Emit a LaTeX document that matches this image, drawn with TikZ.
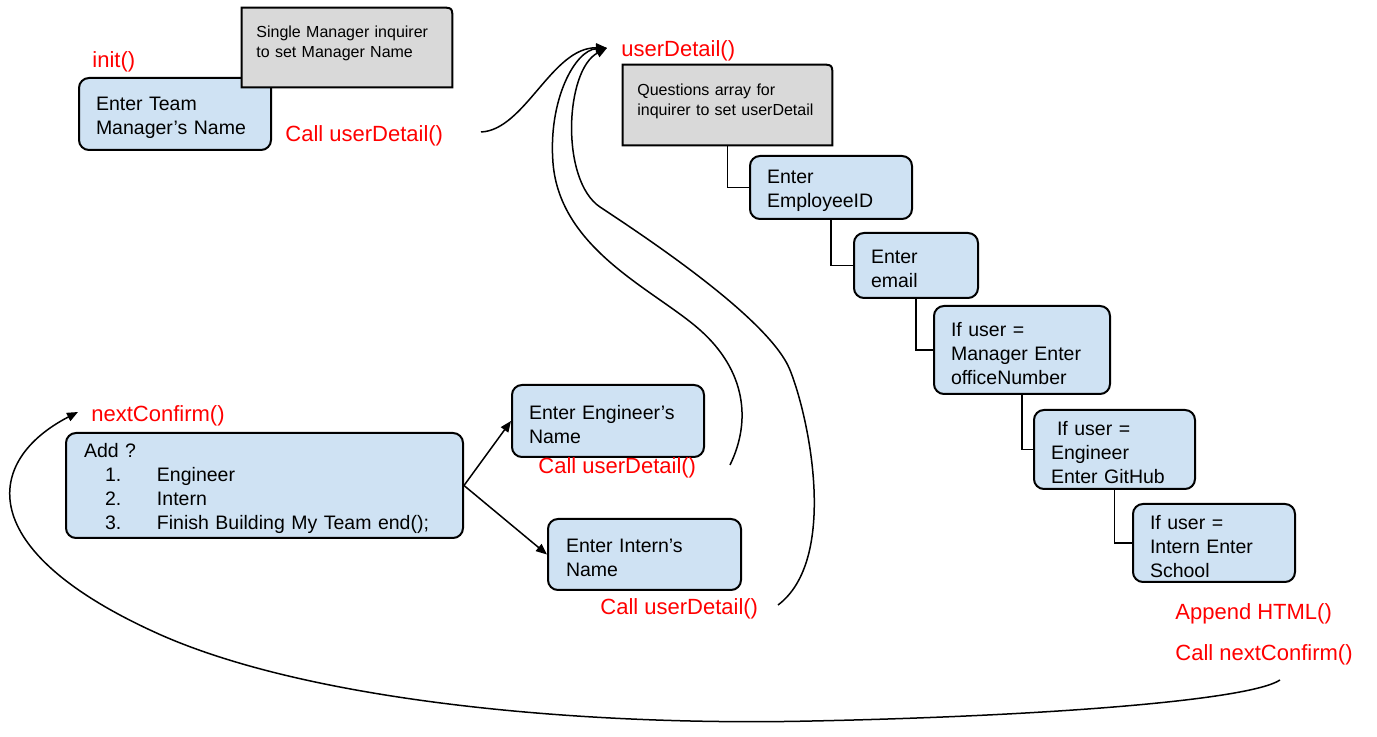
\documentclass[tikz,border=0pt]{standalone}
\usepackage{fontspec}
\setmainfont{Liberation Sans}
\usetikzlibrary{arrows.meta}
\definecolor{boxblue}{HTML}{CFE2F3}
\definecolor{boxgray}{HTML}{D9D9D9}
\definecolor{lblred}{HTML}{FF0000}
\tikzset{
  bluebox/.style={draw=black, line width=1pt, fill=boxblue, rounded corners=5pt,
    align=left, inner xsep=8.5pt, inner ysep=0pt, anchor=center,
    font=\fontsize{9.75}{12}\selectfont, execute at begin node={\rule{0pt}{10.1pt}}},
  grayarea/.style={rectangle, inner sep=0pt},
  grayshape/.style={draw=black, line width=1pt, fill=boxgray},
  graytext/.style={align=left, inner sep=0pt, anchor=base west,
    font=\fontsize{8}{10}\selectfont},
  lbl/.style={text=lblred, inner sep=0pt, anchor=west, yshift=-1.25pt,
    font=\fontsize{11}{13}\selectfont},
  link/.style={draw=black, line width=0.75pt},
  arr/.style={link, -{Stealth[length=5.5pt,width=4.5pt,inset=0pt]}}
}
\begin{document}
\begin{tikzpicture}[x=0.5pt,y=-0.5pt]
\useasboundingbox (0,0) rectangle (1377,737);

% manager box and its inquirer note
\node[bluebox, text width=79pt, minimum height=36pt] (mgr) at (175,114)
  {Enter Team\\Manager’s Name};
\node[grayarea, minimum width=105pt, minimum height=39.5pt] (g1) at (347,47.5) {};
\draw[grayshape] (g1.south west) -- (g1.north west) -- ([xshift=-6pt]g1.north east)
  .. controls (g1.north east) .. ([yshift=-6pt]g1.north east) -- (g1.south east) -- cycle;
\node[graytext, text width=95pt] (g1t) at (256,38) {Single Manager inquirer\\to set Manager Name};

\node[lbl] (init) at (92,59) {init()};
\node[lbl] (call1) at (285,133) {Call userDetail()};

% userDetail question chain
\node[lbl] (ud) at (621,48) {userDetail()};
\node[grayarea, minimum width=104.5pt, minimum height=40pt] (g2) at (727.5,105) {};
\draw[grayshape] (g2.south west) -- (g2.north west) -- ([xshift=-6pt]g2.north east)
  .. controls (g2.north east) .. ([yshift=-6pt]g2.north east) -- (g2.south east) -- cycle;
\node[graytext, text width=95pt] (g2t) at (637,96) {Questions array for\\inquirer to set userDetail};

\node[bluebox, text width=64pt, minimum height=31.5pt] (emp) at (831,187.5) {Enter\\EmployeeID};
\node[bluebox, text width=45pt, minimum height=32.5pt] (email) at (916,265.5) {Enter\\email};
\node[bluebox, text width=71pt, minimum height=44pt] (mgrq) at (1022,350)
  {If user =\\Manager Enter\\officeNumber};
\node[bluebox, text width=63.5pt, minimum height=39.5pt] (engq) at (1114.5,449.5)
  {\hspace*{3pt}If user =\\Engineer\\Enter GitHub};
\node[bluebox, text width=64pt, minimum height=39pt] (intq) at (1214,543)
  {If user =\\Intern Enter\\School};

\draw[link] (g2.south) |- (emp.west);
\draw[link] (emp.south) |- (email.west);
\draw[link] (email.south) |- (mgrq.west);
\draw[link] (mgrq.south) |- (engq.west);
\draw[link] (engq.south) |- (intq.west);

\node[lbl] (html) at (1175,611) {Append HTML()};
\node[lbl] (callnc) at (1175,652) {Call nextConfirm()};

% nextConfirm menu
\node[lbl] (nc) at (91,413) {nextConfirm()};
\node[bluebox, inner xsep=9pt, text width=180.5pt, minimum height=52.5pt] (add) at (264.5,485.5)
  {Add ?\\
   \hspace*{10.5pt}\makebox[26pt][l]{1.}Engineer\\
   \hspace*{10.5pt}\makebox[26pt][l]{2.}Intern\\
   \hspace*{10.5pt}\makebox[26pt][l]{3.}Finish Building My Team end();};

\node[bluebox, text width=79pt, minimum height=36pt] (engn) at (608,421) {Enter Engineer’s\\Name};
\node[bluebox, inner xsep=9pt, text width=78.5pt, minimum height=35.5pt] (intn) at (644.5,554.5)
  {Enter Intern’s\\Name};
\node[lbl] (calle) at (538,465) {Call userDetail()};
\node[lbl] (calli) at (600,606) {Call userDetail()};

\draw[arr] (add.east) -- (engn.west);
\draw[arr] (add.east) -- (intn.west);

% curved connectors
\coordinate (s1) at (481,132);
\coordinate (s2) at (730,465);
\coordinate (s3) at (778,605);
\coordinate (s4) at (1280,680);
\coordinate (tU) at (607,48);
\coordinate (tN) at (78,412);
\coordinate (i1) at (700,330);
\coordinate (i2) at (553,163);
\coordinate (o1) at (790,370);
\coordinate (o2) at (600,207);
\coordinate (b1) at (812,721);
\coordinate (b2) at (161,635);

\draw[arr] (s1) .. controls (525,130) and (552,47) .. (tU);
\draw[arr] (s2) .. controls (752,420) and (745,370) .. (i1)
  .. controls (655,290) and (560,250) .. (i2)
  .. controls (548,100) and (575,50) .. (tU);
\draw[arr] (s3) .. controls (838,560) and (810,420) .. (o1)
  .. controls (770,320) and (650,240) .. (o2)
  .. controls (560,180) and (565,70) .. (tU);
\draw[arr] (s4) .. controls (1250,700) and (1050,716) .. (b1)
  .. controls (600,726) and (320,705) .. (b2)
  .. controls (-30,550) and (-15,460) .. (tN);
\end{tikzpicture}
\end{document}
